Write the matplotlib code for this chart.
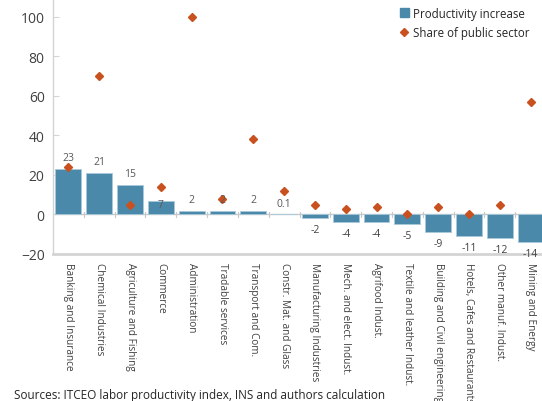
import matplotlib
matplotlib.use("Agg")
import matplotlib.pyplot as plt
from matplotlib.lines import Line2D
from matplotlib.patches import Patch

plt.rcParams['font.family'] = ['Open Sans', 'DejaVu Sans']

sectors = [
    "Banking and Insurance", "Chemical Industries", "Agriculture and Fishing",
    "Commerce", "Administration", "Tradable services", "Transport and Com.",
    "Constr. Mat. and Glass", "Manufacturing Industries", "Mech. and elect. Indust.",
    "Agrifood Indust.", "Textile and leather Indust.", "Building and Civil engineering",
    "Hotels, Cafes and Restaurants", "Other manuf. Indust.", "Mining and Energy",
]
productivity = [23, 21, 15, 7, 2, 2, 2, 0.1, -2, -4, -4, -5, -9, -11, -12, -14]
public_share = [24, 70, 5, 14, 100, 8, 38, 12, 5, 3, 4, 0, 4, 0, 5, 57]
label_text = ["23", "21", "15", "7", "2", "2", "2", "0.1",
              "-2", "-4", "-4", "-5", "-9", "-11", "-12", "-14"]

BAR = "#4a89aa"
DIAMOND = "#c9511f"
GREY = "#d4d4d4"

W, H = 542, 402
fig = plt.figure(figsize=(W / 100, H / 100), dpi=100)
ax = fig.add_axes([53 / W, (H - 255) / H, 493 / W, 257 / H])

x = list(range(len(sectors)))
ax.bar(x, productivity, width=0.84, color=BAR, edgecolor="#a9cadb",
       linewidth=0.6, zorder=2)
ax.plot(x, public_share, linestyle="none", marker="D", markersize=4.2,
        color=DIAMOND, zorder=4)

# value labels: above positive bars, below negative ones
for xi, v, t in zip(x, productivity, label_text):
    if v >= 0:
        dy = -7 if t == "7" else 4
        ax.annotate(t, (xi, v), xytext=(0, dy), textcoords="offset points",
                    ha="center", va="bottom", fontsize=7.5, color="#595959",
                    zorder=5)
    else:
        ax.annotate(t, (xi, v), xytext=(0, -4), textcoords="offset points",
                    ha="center", va="top", fontsize=7.5, color="#404040",
                    zorder=5)

ax.set_xlim(-0.5, len(sectors) - 0.5)
ax.set_ylim(-20, 110)
ax.set_yticks([-20, 0, 20, 40, 60, 80, 100])
ax.tick_params(axis="y", direction="in", length=4, color=GREY,
               labelsize=10, labelcolor="#404040", pad=6)

# zero line with category separators
ax.axhline(0, color="#c8c8c8", linewidth=1.0, zorder=1)
for b in range(1, len(sectors)):
    ax.plot([b - 0.5, b - 0.5], [-1.2, 1.2], color="#c8c8c8", linewidth=0.8,
            zorder=1)

ax.set_xticks(x)
ax.set_xticklabels(sectors, rotation=-90, fontsize=7.2, color="#404040",
                   va="top", ha="center")
ax.tick_params(axis="x", length=0, pad=6)

for side in ("top", "right"):
    ax.spines[side].set_visible(False)
ax.spines["left"].set_color(GREY)
ax.spines["left"].set_linewidth(1.0)
ax.spines["bottom"].set_color(GREY)
ax.spines["bottom"].set_linewidth(2.0)

handles = [
    Patch(facecolor=BAR, edgecolor=BAR),
    Line2D([], [], linestyle="none", marker="D", markersize=4, color=DIAMOND),
]
fig.legend(handles, ["Productivity increase", "Share of public sector"],
           loc="upper left", bbox_to_anchor=(395 / W, 1 - 3 / H),
           frameon=False, fontsize=8.3, handlelength=0.8, handleheight=0.8,
           handletextpad=0.4, labelspacing=0.55, borderaxespad=0,
           labelcolor="#262626")

fig.text(14 / W, 1 - 396 / H,
         "Sources: ITCEO labor productivity index, INS and authors calculation",
         fontsize=8.5, color="#262626", va="center", ha="left")

fig.savefig("out.png", dpi=100)
